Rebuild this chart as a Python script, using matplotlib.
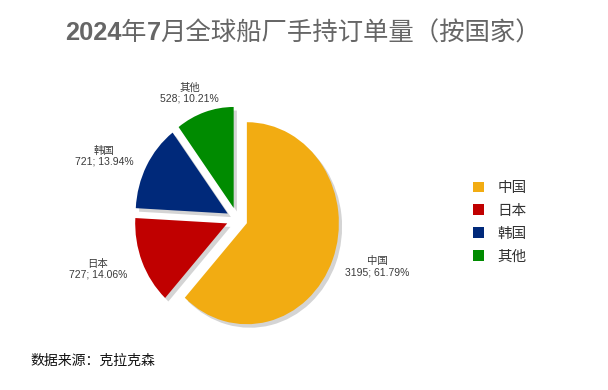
import matplotlib
matplotlib.use('Agg')
import matplotlib.pyplot as plt
import numpy as np

plt.rcParams['font.family'] = ['Liberation Sans', 'Noto Sans CJK SC', 'DejaVu Sans']

# data
countries = ['中国', '日本', '韩国', '其他']
orders = [3195, 727, 721, 528]
shares = [61.79, 14.06, 13.94, 10.21]
colors = ['#F2AC12', '#C00000', '#00297A', '#008B00']

title_parts = [('2024', 'bold'), ('年', 'normal'), ('7', 'bold'),
               ('月全球船厂手持订单量（按国家）', 'normal')]
source = '数据来源：克拉克森'

W, H = 608, 390
Rx, Ry = 92.0, 101.0      # pie radius in pixels (source chart is slightly stretched)
cx, cy = 237, 390 - 219   # pie centre in pixels (from bottom)

fig = plt.figure(figsize=(W / 100, H / 100), dpi=100)
fig.patch.set_facecolor('white')
ax = fig.add_axes([0, 0, 1, 1])

explode = [0.115] * len(orders)

# soft shadow under the slices
ax.pie(orders, explode=explode, startangle=90, counterclock=False,
       colors=['#d4d4d4'] * len(orders), center=(0.035, -0.035), radius=1.0,
       wedgeprops=dict(linewidth=0))

wedges, _ = ax.pie(orders, explode=explode, startangle=90, counterclock=False,
                   colors=colors, radius=1.0, wedgeprops=dict(linewidth=0))

# data labels, placed on an ellipse around each slice tip
for w, c, o, s in zip(wedges, countries, orders, shares):
    th = np.deg2rad((w.theta1 + w.theta2) / 2)
    x = w.center[0] + 1.52 * np.cos(th)
    y = w.center[1] + 1.2 * np.sin(th)
    ax.text(x, y, '%s\n%d; %.2f%%' % (c, o, s), ha='center', va='center',
            fontsize=7.5, color='#3a3a3a', linespacing=1.15)

# pie() resets limits/aspect, so put them back to pixel scale
ax.set_aspect('auto')
ax.set_xlim(-cx / Rx, (W - cx) / Rx)
ax.set_ylim(-cy / Ry, (H - cy) / Ry)
ax.axis('off')

# title: digits bold, chinese regular, laid out piece by piece
renderer = fig.canvas.get_renderer()
pieces = []
total = 0
for txt, wt in title_parts:
    t = fig.text(0, 0.915, txt, ha='left', va='center', fontsize=18.3,
                 color='#666666', fontweight=wt)
    wpx = t.get_window_extent(renderer).width
    pieces.append((t, wpx))
    total += wpx
x0 = 303 - total / 2
for t, wpx in pieces:
    t.set_x(x0 / W)
    x0 += wpx

leg = fig.legend(wedges, countries, loc='center left', bbox_to_anchor=(0.757, 0.43),
                 frameon=False, fontsize=10.5, handlelength=0.75, handleheight=0.75,
                 handletextpad=0.9, labelspacing=0.6)
for t in leg.get_texts():
    t.set_color('#333333')

fig.text(0.05, 0.075, source, ha='left', va='center', fontsize=10, color='#111111',
         style='italic')

fig.savefig('out.png', dpi=100, facecolor='white')
